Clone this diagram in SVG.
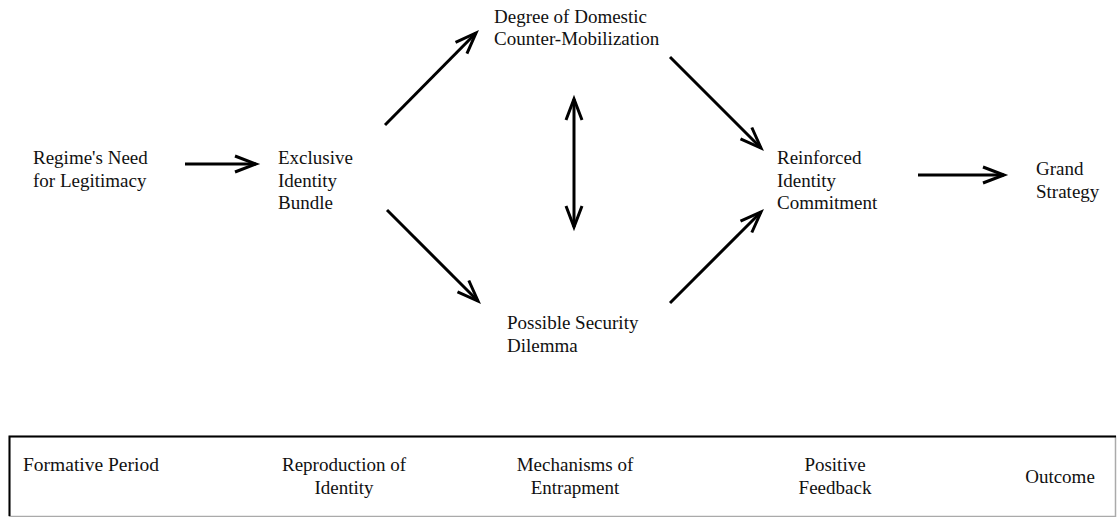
<svg xmlns="http://www.w3.org/2000/svg" width="1117" height="517" viewBox="0 0 1117 517">
<style>
text{font-family:'Liberation Serif','Times New Roman',Times,'DejaVu Serif',serif;font-size:19px;fill:#111}
.c{text-anchor:middle}
.a{stroke:#000;stroke-width:3;fill:none;marker-end:url(#h)}
</style>
<defs>
<marker id="h" markerUnits="userSpaceOnUse" markerWidth="30" markerHeight="24" viewBox="-24 -12 30 24" refX="0" refY="0" orient="auto">
<path d="M-21,-8 L0,0 L-21,8" stroke="#000" stroke-width="3" fill="none"/>
</marker>
<marker id="hs" markerUnits="userSpaceOnUse" markerWidth="30" markerHeight="24" viewBox="-24 -12 30 24" refX="0" refY="0" orient="auto-start-reverse">
<path d="M-21,-8 L0,0 L-21,8" stroke="#000" stroke-width="3" fill="none"/>
</marker>
</defs>
<rect width="1117" height="517" fill="#fff"/>
<g id="connectors">
<line class="a" x1="185" y1="164" x2="256" y2="164"/>
<line class="a" x1="385" y1="125" x2="476" y2="33"/>
<line class="a" x1="387" y1="210" x2="478" y2="301"/>
<line class="a" x1="670" y1="57" x2="761" y2="148"/>
<line class="a" x1="670" y1="303" x2="761" y2="212"/>
<line x1="574" y1="99" x2="574" y2="227" stroke="#000" stroke-width="3" marker-start="url(#hs)" marker-end="url(#hs)"/>
<line class="a" x1="918" y1="175" x2="1004" y2="175"/>
</g>
<g id="n-regime" font-family="'Liberation Serif', serif"><text x="33" y="164">Regime's Need</text><text x="33" y="186.5">for Legitimacy</text></g>
<g id="n-exclusive"><text x="278" y="164">Exclusive</text><text x="278" y="186.5">Identity</text><text x="278" y="209">Bundle</text></g>
<g id="n-degree"><text x="494" y="22.5">Degree of Domestic</text><text x="494" y="45">Counter-Mobilization</text></g>
<g id="n-possible"><text x="507" y="329">Possible Security</text><text x="507" y="352">Dilemma</text></g>
<g id="n-reinforced"><text x="777" y="164">Reinforced</text><text x="777" y="186.5">Identity</text><text x="777" y="209">Commitment</text></g>
<g id="n-grand"><text x="1036" y="175">Grand</text><text x="1036" y="197.5">Strategy</text></g>
<g id="legend">
<rect x="9.5" y="436.5" width="1106" height="80" fill="none" stroke="#aaa" stroke-width="1.5"/>
<path d="M9.5,516 V436.5 H1116" fill="none" stroke="#000" stroke-width="2"/>
<text x="23" y="471" style="font-size:19.5px">Formative Period</text>
<text class="c" x="344" y="471">Reproduction of</text><text class="c" x="344" y="494">Identity</text>
<text class="c" x="575" y="471">Mechanisms of</text><text class="c" x="575" y="494">Entrapment</text>
<text class="c" x="835" y="471">Positive</text><text class="c" x="835" y="494">Feedback</text>
<text class="c" x="1060" y="483">Outcome</text>
</g>
</svg>
